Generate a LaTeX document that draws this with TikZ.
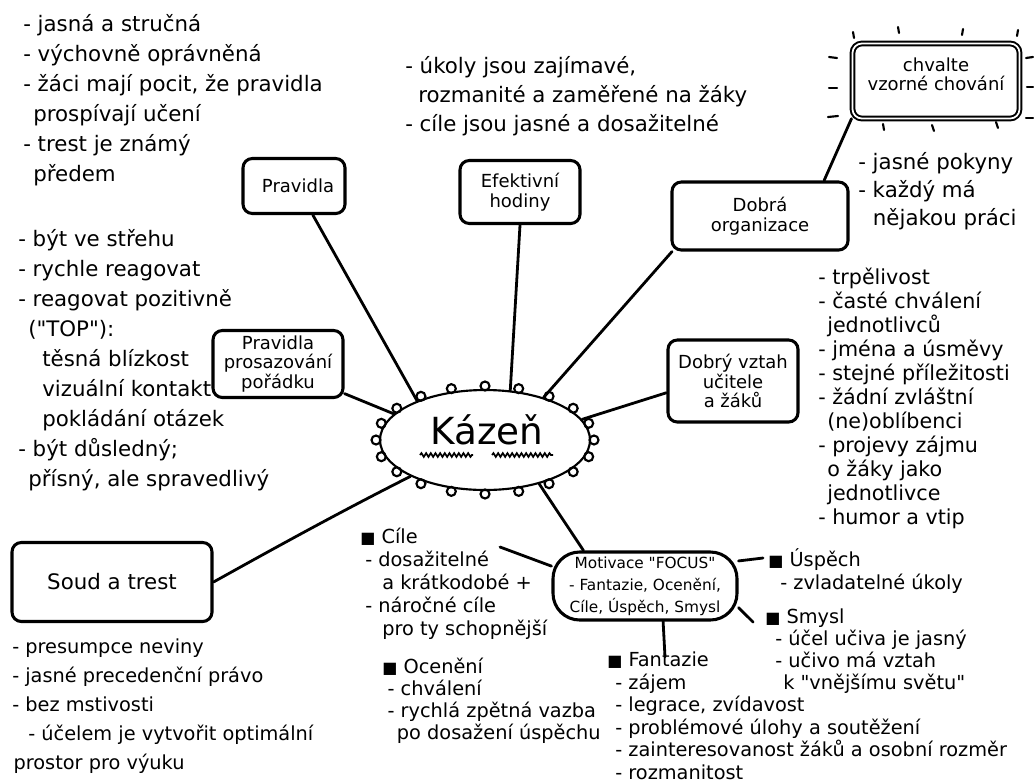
\documentclass[tikz,border=0pt]{standalone}
\usepackage{fontspec}
\setmainfont{DejaVu Sans}[Ligatures=TeXOff]
\usetikzlibrary{shapes.geometric,decorations.pathmorphing,calc}
\newcommand\sq{{\fontsize{12}{12}\selectfont ■}}
\begin{document}
\begin{tikzpicture}[x=0.75pt,y=-0.75pt,
  box/.style={draw, line width=2.3pt, rounded corners=7pt, align=center,
              inner sep=2pt, font=\fontsize{13.5}{14.6}\selectfont},
  link/.style={line width=2.1pt, line cap=round},
  ray/.style={line width=1.6pt, line cap=round},
  % multi-line text blocks are placed by the baseline of their last line
  txt/.style={anchor=base west, align=left, inner sep=0pt,
              font=\fontsize{16}{#1}\selectfont},
  txt/.default=22.5pt,
  small/.style={anchor=base west, align=left, inner sep=0pt,
              font=\fontsize{14.5}{#1}\selectfont},
  small/.default=17pt]
\useasboundingbox (0,0) rectangle (1034,782);

% ---------- boxes ----------
\node[box, minimum width=76.5pt, minimum height=41.25pt] (prav) at (294,186) {\hspace*{6pt}Pravidla};
\node[box, minimum width=90pt, minimum height=47.25pt] (eff) at (520,192) {Efektivní\\hodiny};
\node[box, minimum width=132pt, minimum height=51pt] (org) at (760,216) {Dobrá\\organizace};
\node[box, double, double distance=1.3pt, line width=1.5pt, minimum width=125.25pt,
      minimum height=56.25pt] (chv) at (936,81) {chvalte\\vzorné chování\\[-4pt]\mbox{}};
\node[box, minimum width=97.5pt, minimum height=50.25pt] (pp) at (278,364) {Pravidla\\prosazování\\pořádku};
\node[box, minimum width=97.5pt, minimum height=61.5pt] (dv) at (733,381) {Dobrý vztah\\učitele\\a žáků};
\node[box, minimum width=150pt, minimum height=59.25pt, font=\fontsize{16}{18}\selectfont] (soud) at (112,582) {Soud a trest};
\node[box, rounded corners=20pt, minimum width=138pt, minimum height=51pt,
      font=\fontsize{11.5}{16.5}\selectfont] (mot) at (645,586) {Motivace "FOCUS"\\- Fantazie, Ocenění,\\Cíle, Úspěch, Smysl};

% ---------- central blob ----------
\node[draw, ellipse, line width=1.6pt, minimum width=157.5pt, minimum height=75pt, inner sep=0pt] (kaz) at (485,440) {};
\node[font=\fontsize{28}{30}\selectfont, inner sep=0pt] (kazt) at (487,430) {Kázeň};
\foreach \a in {0,18,...,342}
  \draw[line width=1.6pt] ($(kaz.center)+(\a:109 and 54)$) circle[radius=4.5];
\draw[line width=1.3pt, decorate, decoration={snake, amplitude=1.4pt, segment length=3.5pt}]
  ($(kaz.center)+(-65,15)$) -- ++(53,0);
\draw[line width=1.3pt, decorate, decoration={snake, amplitude=1.4pt, segment length=3.5pt}]
  ($(kaz.center)+(7,15)$) -- ++(61,0);

% ---------- rays round the praise box ----------
\draw[ray] (853,32) -- (854,38);  \draw[ray] (898,27) -- (899,33);
\draw[ray] (963,29) -- (962,35);  \draw[ray] (1018,30) -- (1017,36);
\draw[ray] (829,57) -- (837,58);  \draw[ray] (829,88) -- (837,88);
\draw[ray] (828,117) -- (838,116);
\draw[ray] (1026,58) -- (1033,57); \draw[ray] (1027,87) -- (1033,87);
\draw[ray] (1026,118) -- (1033,118);
\draw[ray] (883,124) -- (884,130); \draw[ray] (932,125) -- (934,131);
\draw[ray] (996,122) -- (998,128);

% ---------- connectors ----------
\draw[link] (prav.-57) -- (kaz.150);
\draw[link] (eff.south) -- (kaz.63);
\draw[link] (org.-158) -- (kaz.36);
\draw[link] (org.29) -- (chv.-156);
\draw[link] (pp.-24) -- (kaz.164);
\draw[link] (dv.190) -- (kaz.12);
\draw[link] (soud.east) .. controls (280,545) and (340,512) .. (kaz.206);
\draw[link] (kaz.-39) -- (mot.150);
\coordinate (ccile) at (500,547);
\coordinate (cusp) at (763,558);
\coordinate (csmy) at (753,622);
\coordinate (cfan) at (665,657);
\draw[link] (ccile) -- (mot.168);
\draw[link] (mot.15) -- (cusp);
\draw[link] (mot.-13) -- (csmy);
\draw[link] (mot.-63) -- (cfan);

% ---------- text blocks ----------
\node[txt] (trules) at (23,181) {- jasná a stručná\\- výchovně oprávněná\\- žáci mají pocit, že pravidla\\\hspace*{7.5pt}prospívají učení\\- trest je známý\\\hspace*{7.5pt}předem};
\node[txt=21.75pt] (tless) at (405,131) {- úkoly jsou zajímavé,\\\hspace*{9.75pt}rozmanité a zaměřené na žáky\\- cíle jsou jasné a dosažitelné};
\node[txt=21pt] (torg) at (858,225) {- jasné pokyny\\- každý má\\\hspace*{11pt}nějakou práci};
\node[txt] (tord) at (18,486) {- být ve střehu\\- rychle reagovat\\- reagovat pozitivně\\\hspace*{7.5pt}("TOP"):\\\hspace*{18pt}těsná blízkost\\\hspace*{18pt}vizuální kontakt\\\hspace*{18pt}pokládání otázek\\- být důsledný;\\\hspace*{7.5pt}přísný, ale spravedlivý};
\node[anchor=base west, align=left, inner sep=0pt, font=\fontsize{15.5}{18}\selectfont] (trel) at (818,524)
  {- trpělivost\\- časté chválení\\\hspace*{6.75pt}jednotlivců\\- jména a úsměvy\\- stejné příležitosti\\- žádní zvláštní\\\hspace*{6.75pt}(ne)oblíbenci\\- projevy zájmu\\\hspace*{6.75pt}o žáky jako\\\hspace*{6.75pt}jednotlivce\\- humor a vtip};
\node[small=21.75pt] (tjust) at (12,769) {- presumpce neviny\\- jasné precedenční právo\\- bez mstivosti\\\hspace*{12pt}- účelem je vytvořit optimální\\\hspace*{1pt}prostor pro výuku};
\node[small=17.25pt] (tgoal) at (360,635) {\sq\ Cíle\\\hspace*{3.75pt}- dosažitelné\\\hspace*{16.5pt}a krátkodobé +\\\hspace*{3.75pt}- náročné cíle\\\hspace*{16.5pt}pro ty schopnější};
\node[small=16.5pt] (tpraise) at (382,739) {\sq\ Ocenění\\\hspace*{4pt}- chválení\\\hspace*{4pt}- rychlá zpětná vazba\\\hspace*{11pt}po dosažení úspěchu};
\node[small=16.875pt] (tfant) at (607,779) {\sq\ Fantazie\\\hspace*{6pt}- zájem\\\hspace*{6pt}- legrace, zvídavost\\\hspace*{6pt}- problémové úlohy a soutěžení\\\hspace*{6pt}- zainteresovanost žáků a osobní rozměr\\\hspace*{6pt}- rozmanitost};
\node[small=17.25pt] (tsucc) at (768,589) {\sq\ Úspěch\\\hspace*{9pt}- zvladatelné úkoly};
\node[small=16.5pt] (tmean) at (765,689) {\sq\ Smysl\\\hspace*{7.5pt}- účel učiva je jasný\\\hspace*{7.5pt}- učivo má vztah\\\hspace*{13.5pt}k "vnějšímu světu"};
\end{tikzpicture}
\end{document}
